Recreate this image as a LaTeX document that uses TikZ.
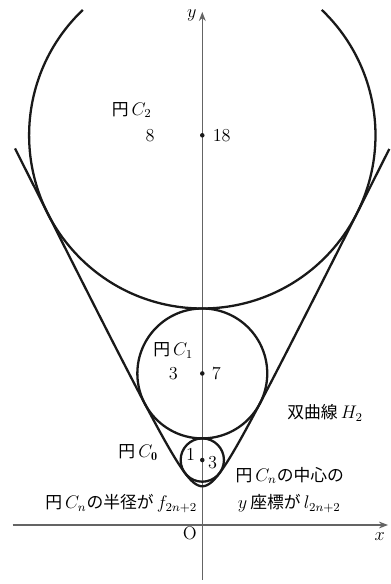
\documentclass[tikz,border=0pt]{standalone}
\usepackage{fontspec}
\usepackage{amsmath}
\newfontfamily\jp[Scale=0.92]{Noto Sans CJK JP}
\usetikzlibrary{arrows.meta}
\definecolor{figline}{RGB}{25,25,25}
\definecolor{figaxis}{RGB}{100,100,100}
\tikzset{
  crv/.style ={draw=figline, line width=1.5pt},
  ax/.style  ={draw=figaxis, line width=0.8pt, -{Stealth[length=6pt,width=4.5pt]}},
  lab/.style ={font=\fontsize{12}{14}\selectfont, inner sep=1pt},
  cdot/.style={fill=figline, circle, inner sep=0pt, minimum size=3pt},
}
\begin{document}
\begin{tikzpicture}[x=0.5cm,y=0.5cm]
  \useasboundingbox (-9.344,-2.725) rectangle (8.716,24.25);
  % axes
  \coordinate (xl) at (-8.76,0);
  \coordinate (xr) at (8.58,0);
  \coordinate (yb) at (0,-2.54);
  \coordinate (yt) at (0,23.70);
  \draw[ax] (xl) -- (xr);
  \draw[ax] (yb) -- (yt);
  \node[lab] (xlab) at (8.2,-0.54) {$x$};
  \node[lab] (ylab) at (-0.49,23.56) {$y$};
  \node[lab] (olab) at (-0.57,-0.38) {O};
  % hyperbola H2
  \draw[crv] plot[domain=-2.965:2.965, samples=120, smooth]
    ({0.894427*sinh(\x)}, {1.788854*cosh(\x)});
  % circles
  \coordinate (c0) at (0,3);
  \coordinate (c1) at (0,7);
  \coordinate (c2) at (0,18);
  \draw[crv] (c0) circle[radius=1];
  \draw[crv] (c1) circle[radius=3];
  \draw[crv] (c2) ++(133.6:8) arc[start angle=133.6, end angle=406.4, radius=8];
  \node[cdot] (d0) at (c0) {};
  \node[cdot] (d1) at (c1) {};
  \node[cdot] (d2) at (c2) {};
  % labels
  \node[lab] (nc2) at (-3.26,19.17) {{\jp 円}\,$C_2$};
  \node[lab] (r2) at (-2.41,17.97) {8};
  \node[lab,anchor=west] (l2) at (0.40,17.97) {18};
  \node[lab] (nc1) at (-1.34,8.05) {{\jp 円}\,$C_1$};
  \node[lab] (r1) at (-1.34,7.0) {3};
  \node[lab,anchor=west] (l1) at (0.36,7.0) {7};
  \node[lab] (nc0) at (-2.96,3.34) {{\jp 円}\,$C_{\mathbf{0}}$};
  \node[lab] (r0) at (-0.54,3.28) {1};
  \node[lab] (l0) at (0.48,2.90) {3};
  \node[lab] (hyp) at (5.67,5.19) {{\jp 双曲線}\,$H_2$};
  \node[lab,anchor=base west] (ctr1) at (1.45,2.03) {{\jp 円}\,$C_n${\jp の中心の}};
  \node[lab,anchor=base west] (ctr2) at (1.56,0.74) {$y$\,{\jp 座標が}\,$l_{2n+2}$};
  \node[lab,anchor=base east] (rad) at (-0.15,0.74) {{\jp 円}\,$C_n${\jp の半径が}\,$f_{2n+2}$};
\end{tikzpicture}
\end{document}
